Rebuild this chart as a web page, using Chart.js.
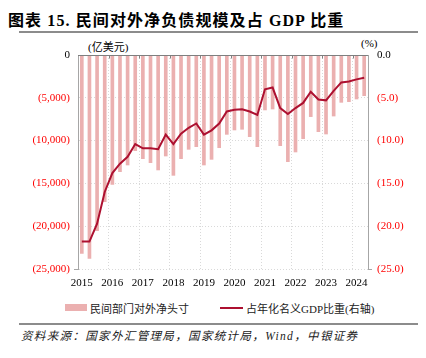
<!DOCTYPE html>
<html>
<head>
<meta charset="utf-8">
<script src="https://cdn.jsdelivr.net/npm/chart.js@4.4.0/dist/chart.umd.min.js"></script>
<style>
  body { margin: 0; background: #fff; }
  #wrap { position: relative; width: 426px; height: 358px; background: #fff; overflow: hidden; }
  #wrap div { position: absolute; white-space: nowrap; }
  .serif { font-family: "Liberation Serif", "Noto Sans CJK SC", serif; }
  #title { left: 8px; top: 7px; font-size: 16px; font-weight: bold; letter-spacing: 1.1px; color: #000; }
  .rule { left: 19px; width: 399px; background: #8c8c8c; }
  #units-l { left: 88px; top: 38px; font-size: 11px; }
  #units-r { left: 361px; top: 37px; font-size: 11px; }
  .leg { top: 300px; font-size: 11px; color: #222; }
  #src { left: 21px; top: 327px; font-size: 11.5px; font-style: italic; letter-spacing: 1.35px; color: #222; }
  #chart { position: absolute; left: 0; top: 0; }
</style>
</head>
<body>
<div id="wrap">
  <div id="title" class="serif">图表 15. 民间对外净负债规模及占 GDP 比重</div>
  <div class="rule" style="top:31px;height:2px;"></div>
  <div id="units-l" class="serif">(亿美元)</div>
  <div id="units-r" class="serif">(%)</div>
  <canvas id="chart" width="426" height="300"></canvas>
  <div style="left:65px;top:304px;width:22px;height:7px;background:#ebb0b0;"></div>
  <div class="leg serif" style="left:90px;">民间部门对外净头寸</div>
  <div style="left:220px;top:307px;width:23px;height:2px;background:#ad1030;"></div>
  <div class="leg serif" style="left:246px;">占年化名义GDP比重(右轴)</div>
  <div class="rule" style="top:323px;height:1.5px;"></div>
  <div id="src" class="serif">资料来源：国家外汇管理局，国家统计局，Wind，中银证券</div>
</div>
<script>
// quarterly, 2015Q1 - 2024Q2
const categories = [];
for (let y = 2015; y <= 2024; y++) {
  for (let q = 1; q <= 4; q++) {
    if (y === 2024 && q > 2) break;
    categories.push(y + 'Q' + q);
  }
}

// 民间部门对外净头寸 (亿美元)
const netPosition = [
  -23170, -23750, -20520, -17130, -15110, -13630, -12850, -11180,
  -12110, -12580, -13430, -11800, -14060, -12110, -11020, -10710,
  -12850, -12190, -10830, -9270, -8760, -8680, -9540, -10710,
  -6420, -6310, -10590, -12460, -11330, -9780, -7200, -8960,
  -9230, -7130, -5530, -5450, -5140, -4750
];

// 占年化名义GDP比重 (%)
const gdpShare = [
  -21.8, -21.8, -19.7, -16.0, -13.8, -12.7, -11.9, -10.4,
  -10.9, -10.9, -11.0, -9.3, -10.4, -9.2, -8.5, -8.0,
  -9.3, -8.8, -8.0, -6.6, -6.4, -6.35, -6.6, -7.0,
  -4.0, -3.8, -6.2, -6.9, -6.2, -5.6, -4.3, -5.2,
  -5.3, -4.2, -3.2, -3.1, -2.85, -2.65
];

const leftTicks = [0, -5000, -10000, -15000, -20000, -25000];
const rightTicks = [0, -5, -10, -15, -20, -25];

const serif = '"Liberation Serif", "Times New Roman", serif';

const zeroLine = {
  id: 'zeroLine',
  afterDatasetsDraw(chart) {
    const { ctx, chartArea, scales } = chart;
    const y0 = Math.round(scales.y.getPixelForValue(0)) + 0.5;
    ctx.save();
    ctx.strokeStyle = '#7f7f7f';
    ctx.lineWidth = 1;
    ctx.beginPath();
    ctx.moveTo(chartArea.left, y0);
    ctx.lineTo(chartArea.right, y0);
    // small year ticks under the zero line
    for (let i = 4; i < categories.length; i += 4) {
      const x = Math.round((scales.x.getPixelForValue(i - 1) + scales.x.getPixelForValue(i)) / 2) + 0.5;
      ctx.moveTo(x, y0);
      ctx.lineTo(x, y0 + 3);
    }
    ctx.stroke();
    ctx.restore();
  }
};

new Chart(document.getElementById('chart'), {
  data: {
    labels: categories,
    datasets: [
      {
        type: 'line',
        label: '占年化名义GDP比重(右轴)',
        data: gdpShare,
        yAxisID: 'y1',
        borderColor: '#ad1030',
        borderWidth: 2,
        pointRadius: 0,
        tension: 0,
        order: 1
      },
      {
        type: 'bar',
        label: '民间部门对外净头寸',
        data: netPosition,
        yAxisID: 'y',
        backgroundColor: '#ebb0b0',
        barThickness: 3,
        order: 2
      }
    ]
  },
  options: {
    responsive: false,
    animation: false,
    layout: { padding: { top: 55, left: 0, right: 0, bottom: 0 } },
    plugins: { legend: { display: false }, tooltip: { enabled: false } },
    scales: {
      x: {
        offset: true,
        afterFit: s => { s.height = 31; },
        border: { display: false, dash: [1, 2] },
        grid: {
          offset: true,
          drawTicks: false,
          color: c => (c.index > 0 && c.index % 4 === 0 && c.index < categories.length) ? '#d9d9d9' : 'transparent'
        },
        ticks: {
          autoSkip: false,
          maxRotation: 0,
          padding: 8,
          color: '#000',
          font: { family: serif, size: 11 },
          callback: (v, i) => i % 4 === 0 ? categories[i].slice(0, 4) : ''
        }
      },
      y: {
        position: 'left',
        min: -25000,
        max: 0,
        afterFit: s => { s.width = 78; },
        afterBuildTicks: s => { s.ticks = leftTicks.map(v => ({ value: v })); },
        border: { display: true, color: '#a6a6a6', width: 1, dash: [1, 2] },
        grid: {
          color: c => c.tick && c.tick.value === 0 ? 'transparent' : '#d9d9d9',
          tickLength: 4,
          tickColor: c => c.tick && c.tick.value === -25000 ? '#a6a6a6' : 'transparent'
        },
        ticks: {
          padding: 4,
          font: { family: serif, size: 11 },
          color: c => c.tick.value < 0 ? '#ff0000' : '#000',
          callback: v => v === 0 ? '0' : '(' + Math.abs(v).toLocaleString('en-US') + ')'
        }
      },
      y1: {
        position: 'right',
        min: -25,
        max: 0,
        afterFit: s => { s.width = 58; },
        afterBuildTicks: s => { s.ticks = rightTicks.map(v => ({ value: v })); },
        border: { display: true, color: '#a6a6a6', width: 1 },
        grid: {
          drawOnChartArea: false,
          tickLength: 4,
          tickColor: c => c.tick && c.tick.value === -25 ? '#a6a6a6' : 'transparent'
        },
        ticks: {
          padding: 5,
          font: { family: serif, size: 11 },
          color: c => c.tick.value < 0 ? '#ff0000' : '#000',
          callback: v => v === 0 ? '0.0' : '(' + Math.abs(v).toFixed(1) + ')'
        }
      }
    }
  },
  plugins: [zeroLine]
});
</script>
</body>
</html>
